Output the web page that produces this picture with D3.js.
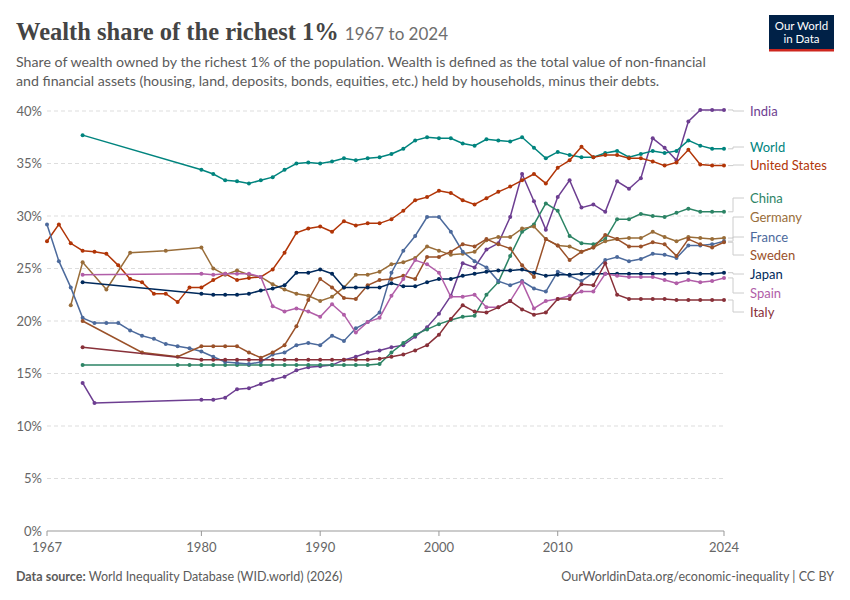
<!DOCTYPE html>
<html><head><meta charset="utf-8">
<script src="https://cdn.jsdelivr.net/npm/d3@7"></script>
<style>body{margin:0;background:#fff;font-family:Lato,"Noto Sans",sans-serif}</style>
</head><body><svg id="c" width="850" height="600"></svg>
<script>
const yTicks=[0,5,10,15,20,25,30,35,40];
const xTicks=[1967,1980,1990,2000,2010,2024];
const seq=(a,b)=>d3.range(a,b+1);
const india=[[1970,14.1],[1971,12.2],[1980,12.5],[1981,12.5],[1982,12.7],[1983,13.5],[1984,13.6],[1985,14.0],[1986,14.4],[1987,14.7],[1988,15.3],[1989,15.6],[1990,15.7],[1991,15.8],[1992,16.3],[1993,16.6],[1994,17.0],[1995,17.2],[1996,17.5],[1997,17.7],[1998,18.5],[1999,19.4],[2000,20.7],[2001,22.4],[2002,25.5],[2003,25.1],[2004,26.8],[2005,27.4],[2006,29.9],[2007,34.0],[2008,31.4],[2009,28.7],[2010,31.8],[2011,33.4],[2012,30.8],[2013,31.1],[2014,30.4],[2015,33.3],[2016,32.6],[2017,33.6],[2018,37.4],[2019,36.5],[2020,35.3],[2021,39.0],[2022,40.1],[2023,40.1],[2024,40.1]];
const world=[[1970,37.7],[1980,34.4],[1981,34.0],[1982,33.4],[1983,33.3],[1984,33.1],[1985,33.4],[1986,33.7],[1987,34.4],[1988,35.0],[1989,35.1],[1990,35.0],[1991,35.2],[1992,35.5],[1993,35.3],[1994,35.5],[1995,35.6],[1996,35.9],[1997,36.4],[1998,37.2],[1999,37.5],[2000,37.4],[2001,37.4],[2002,36.9],[2003,36.7],[2004,37.3],[2005,37.2],[2006,37.1],[2007,37.5],[2008,36.5],[2009,35.5],[2010,36.1],[2011,35.8],[2012,35.6],[2013,35.6],[2014,36.0],[2015,36.2],[2016,35.6],[2017,35.9],[2018,36.2],[2019,36.0],[2020,36.2],[2021,37.2],[2022,36.7],[2023,36.4],[2024,36.4]];
const us=[[1967,27.6],[1968,29.2],[1969,27.4],[1970,26.7],[1971,26.6],[1972,26.4],[1973,25.3],[1974,24.0],[1975,23.7],[1976,22.6],[1977,22.6],[1978,21.8],[1979,23.2],[1980,23.2],[1981,23.9],[1982,24.5],[1983,23.9],[1984,24.1],[1985,24.2],[1986,24.9],[1987,26.5],[1988,28.4],[1989,28.8],[1990,29.0],[1991,28.5],[1992,29.5],[1993,29.1],[1994,29.3],[1995,29.3],[1996,29.7],[1997,30.5],[1998,31.5],[1999,31.8],[2000,32.4],[2001,32.2],[2002,31.5],[2003,31.1],[2004,31.7],[2005,32.3],[2006,32.8],[2007,33.4],[2008,34.0],[2009,33.1],[2010,34.6],[2011,35.3],[2012,36.6],[2013,35.6],[2014,35.8],[2015,35.8],[2016,35.5],[2017,35.5],[2018,35.2],[2019,34.8],[2020,35.1],[2021,36.3],[2022,34.9],[2023,34.8],[2024,34.8]];
const china=[[1970,15.8]].concat(seq(1978,1994).map(y=>[y,15.8])).concat([[1995,15.9],[1996,17.0],[1997,17.9],[1998,18.7],[1999,19.2],[2000,19.7],[2001,20.1],[2002,20.4],[2003,20.5],[2004,22.5],[2005,23.7],[2006,26.2],[2007,28.5],[2008,29.2],[2009,31.2],[2010,30.5],[2011,28.1],[2012,27.4],[2013,27.3],[2014,27.8],[2015,29.7],[2016,29.7],[2017,30.2],[2018,30.0],[2019,29.9],[2020,30.3],[2021,30.7],[2022,30.4],[2023,30.4],[2024,30.4]]);
const germany=[[1969,21.5],[1970,25.6],[1972,23.0],[1974,26.5],[1977,26.7],[1980,27.0],[1981,25.0],[1982,24.4],[1983,24.8],[1984,24.4],[1985,24.2],[1986,23.5],[1987,23.0],[1988,22.6],[1989,22.4],[1990,21.9],[1991,22.3],[1992,23.2],[1993,24.4],[1994,24.4],[1995,24.7],[1996,25.4],[1997,25.6],[1998,26.0],[1999,27.1],[2000,26.7],[2001,26.3],[2002,26.4],[2003,26.6],[2004,27.7],[2005,28.0],[2006,28.0],[2007,28.8],[2008,29.0],[2009,27.8],[2010,27.2],[2011,27.1],[2012,26.6],[2013,27.0],[2014,27.6],[2015,27.8],[2016,27.9],[2017,27.9],[2018,28.5],[2019,28.0],[2020,27.6],[2021,28.0],[2022,27.9],[2023,27.8],[2024,27.9]];
const france=[[1967,29.2],[1968,25.7],[1969,23.2],[1970,20.3],[1971,19.8],[1972,19.8],[1973,19.8],[1974,19.1],[1975,18.6],[1976,18.3],[1977,17.8],[1978,17.6],[1979,17.4],[1980,17.1],[1981,16.6],[1982,16.1],[1983,16.0],[1984,15.9],[1985,16.1],[1986,16.8],[1987,17.0],[1988,17.7],[1989,17.9],[1990,17.7],[1991,18.6],[1992,18.1],[1993,19.3],[1994,19.9],[1995,20.8],[1996,24.6],[1997,26.7],[1998,28.1],[1999,29.9],[2000,29.9],[2001,28.5],[2002,26.6],[2003,25.7],[2004,25.1],[2005,23.8],[2006,23.4],[2007,23.8],[2008,23.1],[2009,22.8],[2010,24.7],[2011,24.3],[2012,23.8],[2013,24.6],[2014,25.8],[2015,26.1],[2016,25.7],[2017,25.9],[2018,26.4],[2019,26.3],[2020,26.0],[2021,27.2],[2022,27.2],[2023,27.3],[2024,27.6]];
const sweden=[[1970,20.0],[1975,17.0],[1978,16.6],[1980,17.6],[1981,17.6],[1982,17.6],[1983,17.6],[1984,17.0],[1985,16.5],[1986,17.0],[1987,17.7],[1988,19.5],[1989,22.0],[1990,24.0],[1991,23.2],[1992,22.2],[1993,22.1],[1994,23.4],[1995,23.9],[1996,24.0],[1997,24.3],[1998,24.0],[1999,26.1],[2000,26.1],[2001,26.6],[2002,27.3],[2003,27.1],[2004,27.8],[2005,27.3],[2006,26.9],[2007,25.3],[2008,24.2],[2009,27.8],[2010,27.2],[2011,25.8],[2012,26.6],[2013,27.0],[2014,28.2],[2015,27.8],[2016,27.1],[2017,27.1],[2018,27.5],[2019,27.3],[2020,26.2],[2021,27.8],[2022,27.3],[2023,27.0],[2024,27.5]];
const japan=[[1970,23.7],[1980,22.6],[1981,22.5],[1982,22.5],[1983,22.5],[1984,22.6],[1985,22.9],[1986,23.1],[1987,23.4],[1988,24.6],[1989,24.6],[1990,24.9],[1991,24.5],[1992,23.2],[1993,23.2],[1994,23.2],[1995,23.2],[1996,23.6],[1997,23.3],[1998,23.3],[1999,23.7],[2000,24.0],[2001,24.0],[2002,24.3],[2003,24.5],[2004,24.7],[2005,24.8],[2006,24.8],[2007,24.9],[2008,24.6],[2009,24.3],[2010,24.4],[2011,24.4],[2012,24.5],[2013,24.5],[2014,24.5],[2015,24.5],[2016,24.5],[2017,24.5],[2018,24.5],[2019,24.5],[2020,24.5],[2021,24.6],[2022,24.5],[2023,24.5],[2024,24.6]];
const spain=[[1970,24.4],[1980,24.5],[1981,24.4],[1982,24.5],[1983,24.5],[1984,24.5],[1985,24.2],[1986,21.4],[1987,20.9],[1988,21.2],[1989,20.9],[1990,20.4],[1991,21.6],[1992,20.6],[1993,18.9],[1994,19.9],[1995,20.3],[1996,22.4],[1997,24.0],[1998,25.8],[1999,25.4],[2000,24.6],[2001,22.3],[2002,22.3],[2003,22.5],[2004,21.3],[2005,21.3],[2006,21.9],[2007,23.7],[2008,21.2],[2009,21.9],[2010,22.1],[2011,22.4],[2012,22.8],[2013,22.8],[2014,24.5],[2015,24.3],[2016,24.2],[2017,24.2],[2018,24.2],[2019,23.9],[2020,23.6],[2021,23.9],[2022,23.7],[2023,23.8],[2024,24.1]];
const italy=[[1970,17.5]].concat(seq(1980,1994).map(y=>[y,16.3])).concat([[1995,16.4],[1996,16.6],[1997,16.8],[1998,17.2],[1999,17.7],[2000,18.7],[2001,20.2],[2002,21.5],[2003,20.9],[2004,20.8],[2005,21.3],[2006,21.9],[2007,21.1],[2008,20.6],[2009,20.8],[2010,22.1],[2011,22.1],[2012,23.5],[2013,23.4],[2014,25.5],[2015,22.5],[2016,22.1],[2017,22.1],[2018,22.1],[2019,22.1],[2020,22.0],[2021,22.0],[2022,22.0],[2023,22.0],[2024,22.0]]);
const names=["India","World","United States","China","Germany","France","Sweden","Japan","Spain","Italy"];
const colors=["#6D3E91","#00847E","#B13507","#2C8465","#996D39","#4C6A9C","#9A5129","#00295B","#B15EA8","#883039"];
const labelY=[111,147,165,198,217,237,255,274,293,312];
const data=[india,world,us,china,germany,france,sweden,japan,spain,italy];

const svg=d3.select("#c");
const x=d3.scaleLinear().domain([1967,2024]).range([47,724]);
const y=d3.scaleLinear().domain([0,40]).range([531,111]);
svg.append("text").attr("x",16).attr("y",40).attr("font-family","'Liberation Serif',serif").attr("font-size",24.5).attr("font-weight","bold").attr("fill","#444").text("Wealth share of the richest 1%")
 .append("tspan").attr("font-family","Lato,sans-serif").attr("font-weight","normal").attr("font-size",17).attr("fill","#6e6e6e").attr("dx",6).text("1967 to 2024");
const sub=["Share of wealth owned by the richest 1% of the population. Wealth is defined as the total value of non-financial","and financial assets (housing, land, deposits, bonds, equities, etc.) held by households, minus their debts."];
sub.forEach((s,i)=>svg.append("text").attr("x",16).attr("y",67+i*19).attr("font-size",14.2).attr("fill","#5b5b5b").text(s));
const lg=svg.append("g");
lg.append("rect").attr("x",769).attr("y",15).attr("width",65).attr("height",36).attr("fill","#002147");
lg.append("rect").attr("x",769).attr("y",49).attr("width",65).attr("height",2.5).attr("fill","#ce261e");
["Our World","in Data"].forEach((t,i)=>lg.append("text").attr("x",801.5).attr("y",30+i*13).attr("text-anchor","middle").attr("fill","#fff").attr("font-size",11.5).text(t));
const ga=svg.append("g");
yTicks.forEach(t=>{
 ga.append("line").attr("x1",47).attr("x2",724).attr("y1",y(t)).attr("y2",y(t)).attr("stroke",t===0?"#999":"#ddd").attr("stroke-dasharray",t===0?null:"4,3");
 ga.append("text").attr("x",42).attr("y",y(t)+4.5).attr("text-anchor","end").attr("font-size",13).attr("fill","#666").text(t+"%");
});
xTicks.forEach(t=>{
 ga.append("line").attr("x1",x(t)).attr("x2",x(t)).attr("y1",531).attr("y2",536).attr("stroke","#999");
 ga.append("text").attr("x",x(t)).attr("y",552).attr("text-anchor","middle").attr("font-size",13).attr("fill","#666").text(t);
});
const line=d3.line().x(d=>x(d[0])).y(d=>y(d[1]));
data.forEach((s,i)=>{
 const g=svg.append("g");
 g.append("path").attr("d",line(s)).attr("fill","none").attr("stroke",colors[i]).attr("stroke-width",1.5);
 g.selectAll("circle").data(s).join("circle").attr("cx",d=>x(d[0])).attr("cy",d=>y(d[1])).attr("r",2).attr("fill",colors[i]);
 const last=s[s.length-1], ly=y(last[1]);
 g.append("path").attr("d",`M${x(2024)+4},${ly}H733V${labelY[i]}H744`).attr("fill","none").attr("stroke","#ccc");
 svg.append("text").attr("x",750).attr("y",labelY[i]+4.5).attr("font-size",13).attr("fill",colors[i]).text(names[i]);
});
svg.append("text").attr("x",16).attr("y",581).attr("font-size",12.5).attr("fill","#5b5b5b").html("<tspan font-weight='bold'>Data source:</tspan> World Inequality Database (WID.world) (2026)");
svg.append("text").attr("x",834).attr("y",581).attr("text-anchor","end").attr("font-size",12.5).attr("fill","#5b5b5b").text("OurWorldinData.org/economic-inequality | CC BY");
</script></body></html>
